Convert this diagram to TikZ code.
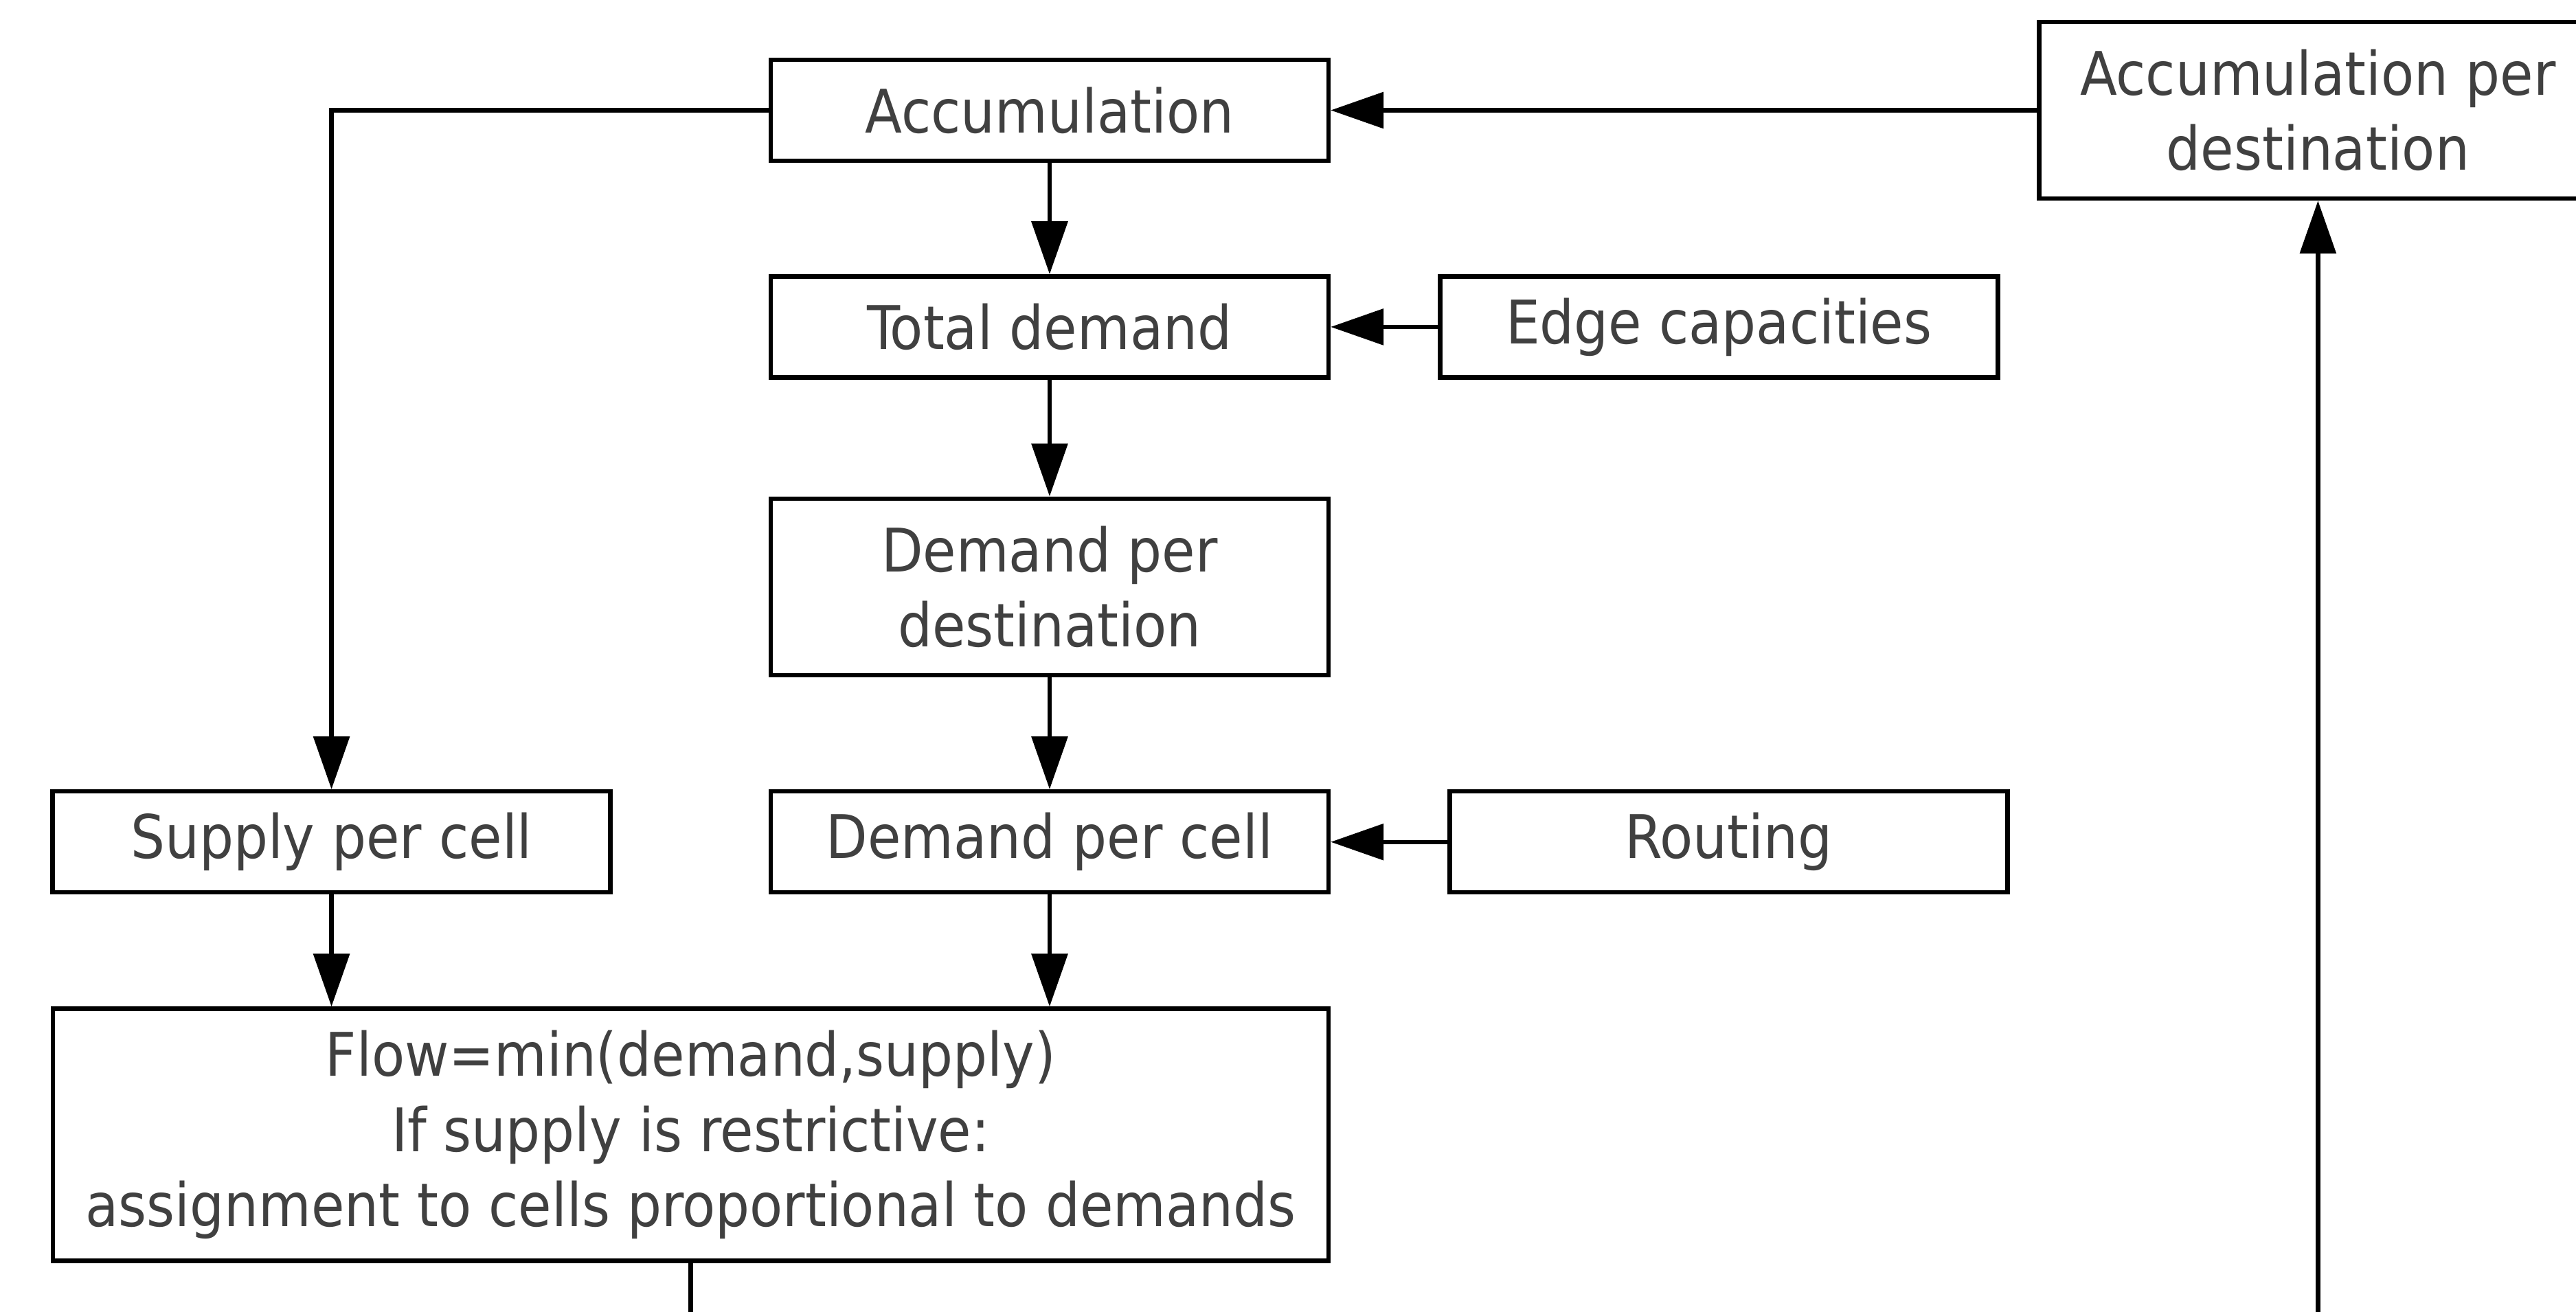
\documentclass[tikz,border=0pt]{standalone}
\usepackage{fontspec}
\setmainfont{DejaVu Sans Condensed}
\usetikzlibrary{arrows.meta, positioning}
\definecolor{txtgray}{RGB}{64,64,64}

\begin{document}
\begin{tikzpicture}[
  block/.style={draw, line width=0.32mm, minimum height=7.35mm, minimum width=40.6mm, inner sep=0pt,
    align=center, text=txtgray, font=\fontsize{12.45}{15.6}\selectfont},
  tall/.style={block, minimum height=12.85mm},
  line/.style={-{Triangle[length=3.85mm, width=2.6mm]}, line width=0.32mm},
  node distance=8mm
]
\path[use as bounding box, clip] (-76.4mm,8.025mm) rectangle (111.1mm,-87.425mm);

\node[block] (acc) {Accumulation};
\node[block, below=8.1mm of acc] (total) {Total demand};
\node[block, right=7.8mm of total] (edge) {Edge capacities};
\node[tall, below=8.5mm of total] (dpd) {Demand per\\destination};
\node[block, below=8.15mm of dpd] (dpc) {Demand per cell};
\node[block, right=8.5mm of dpc] (routing) {Routing};
\node[block, left=11.35mm of dpc] (supply) {Supply per cell};
\node[block, minimum width=92.85mm, minimum height=18.35mm,
  below=8.15mm of dpc.south east, anchor=north east] (flow)
  {Flow=min(demand,supply)\\If supply is restrictive:\\assignment to cells proportional to demands};
\node[tall, right=51.4mm of acc] (accdest) {Accumulation per\\destination};

% free ends at the lower edge
\coordinate (botl) at (flow.south |- 0,-88mm);
\coordinate (botr) at (accdest.south |- 0,-88mm);

\draw[line] (acc.west) -| (supply.north);
\draw[line] (acc) -- (total);
\draw[line] (edge) -- (total);
\draw[line] (total) -- (dpd);
\draw[line] (dpd) -- (dpc);
\draw[line] (routing) -- (dpc);
\draw[line] (supply) -- (supply |- flow.north);
\draw[line] (dpc) -- (dpc |- flow.north);
\draw[line] (accdest) -- (acc);
\draw[line width=0.32mm] (flow) -- (botl);
\draw[line] (botr) -- (accdest);
\end{tikzpicture}
\end{document}
